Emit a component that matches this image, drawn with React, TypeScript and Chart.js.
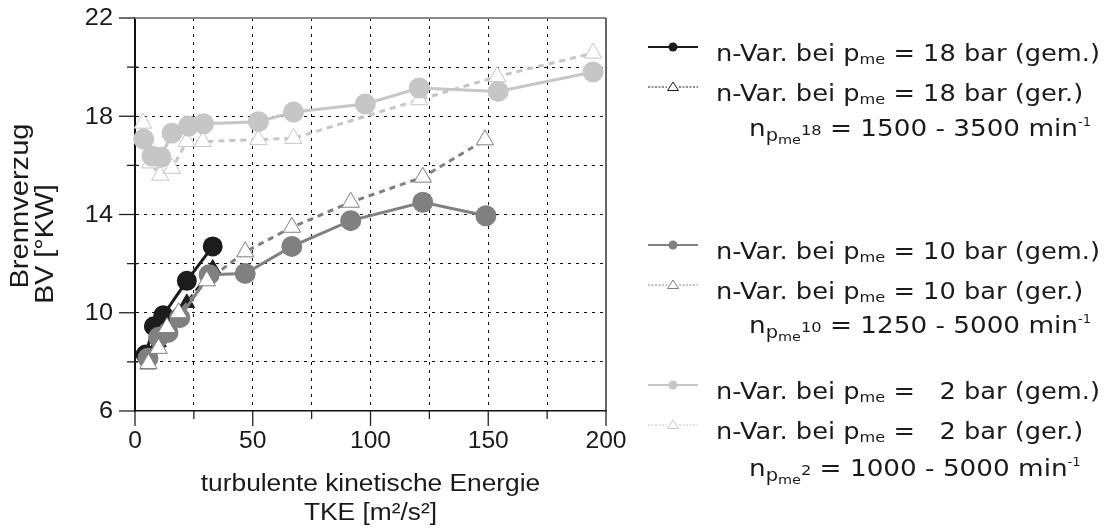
import React, { useEffect, useRef } from 'react';
import { Chart, registerables } from 'chart.js';

Chart.register(...registerables);

// Brennverzug über turbulenter kinetischer Energie – Drehzahlvariation bei drei Lasten
const p18GemTke = [4.5, 8, 12, 22, 33];
const p18GemBv = [8.3, 9.45, 9.9, 11.3, 12.7];
const p18GerTke = [5.5, 10, 22, 33];
const p18GerBv = [7.9, 8.8, 10.4, 11.8];

const p10GemTke = [5.5, 10, 14, 19, 31.5, 46.8, 66.6, 91.6, 122.2, 149];
const p10GemBv = [8.15, 9.0, 9.2, 9.8, 11.55, 11.6, 12.7, 13.75, 14.5, 13.95];
const p10GerTke = [5.7, 10, 13.6, 18.5, 30.5, 46.8, 66.6, 91.6, 122.2, 148.6];
const p10GerBv = [7.93, 8.55, 9.4, 10.0, 11.3, 12.48, 13.48, 14.5, 15.52, 17.04];

const p2GemTke = [3.7, 7.2, 11, 15.7, 22.7, 29.1, 52.4, 67.3, 97.8, 120.7, 154.2, 194.5];
const p2GemBv = [17.07, 16.38, 16.33, 17.31, 17.6, 17.69, 17.78, 18.17, 18.5, 19.15, 19.01, 19.8];
const p2GerTke = [3.4, 6.5, 10.7, 15.7, 22, 28.8, 52.4, 67.3, 120.7, 153.8, 194.5];
const p2GerBv = [17.72, 16.1, 15.6, 15.88, 16.97, 16.97, 17.05, 17.1, 18.67, 19.62, 20.57];

const xMin = 0;
const xMax = 200;
const xStep = 25;
const xLabelStep = 50;
const yMin = 6;
const yMax = 22;
const yStep = 2;
const yLabelStep = 4;

const xTitle = ['turbulente kinetische Energie', 'TKE [m²/s²]'];
const yTitle = ['Brennverzug', 'BV [°KW]'];

const loadLabels = ['18', '10', '  2'];
const speedRanges = ['1500 - 3500', '1250 - 5000', '1000 - 5000'];

const C_BLACK = '#1c1c1c';
const C_MID = '#808080';
const C_LIGHT = '#c6c6c6';
const TEXT = '#1a1a1a';
const AXIS_FONT = '"Liberation Sans", Arial, sans-serif';
const LEGEND_FONT = '"DejaVu Sans", Verdana, sans-serif';

const pts = (xs: number[], ys: number[]) => xs.map((x, i) => ({ x, y: ys[i] }));

type Seg = { t: string; k?: number; dy?: number };

function richWidth(ctx: CanvasRenderingContext2D, segs: Seg[], base: number) {
  let w = 0;
  for (const s of segs) {
    ctx.font = `${base * (s.k ?? 1)}px ${LEGEND_FONT}`;
    w += ctx.measureText(s.t).width;
  }
  return w;
}

function drawRich(ctx: CanvasRenderingContext2D, x: number, y: number, segs: Seg[], base: number, sx: number) {
  ctx.save();
  ctx.translate(x, y);
  ctx.scale(sx, 1);
  let cx = 0;
  for (const s of segs) {
    ctx.font = `${base * (s.k ?? 1)}px ${LEGEND_FONT}`;
    ctx.fillText(s.t, cx, base * (s.dy ?? 0));
    cx += ctx.measureText(s.t).width;
  }
  ctx.restore();
}

// text drawn with a slight horizontal widening
function drawWide(
  ctx: CanvasRenderingContext2D,
  text: string,
  x: number,
  y: number,
  align: 'left' | 'center' | 'right',
  stretch: number,
) {
  const w = ctx.measureText(text).width * stretch;
  const x0 = align === 'left' ? x : align === 'center' ? x - w / 2 : x - w;
  ctx.save();
  ctx.translate(x0, y);
  ctx.scale(stretch, 1);
  ctx.textAlign = 'left';
  ctx.fillText(text, 0, 0);
  ctx.restore();
}

const gemRow = (load: string): Seg[] => [
  { t: 'n-Var. bei p' },
  { t: 'me', k: 0.63, dy: 0.17 },
  { t: ` = ${load} bar (gem.)` },
];
const gerRow = (load: string): Seg[] => [
  { t: 'n-Var. bei p' },
  { t: 'me', k: 0.63, dy: 0.17 },
  { t: ` = ${load} bar (ger.)` },
];
const noteRow = (load: string, range: string): Seg[] => [
  { t: 'n' },
  { t: 'p', k: 0.74, dy: 0.2 },
  { t: 'me', k: 0.55, dy: 0.36 },
  { t: load.trim(), k: 0.62, dy: -0.04 },
  { t: ` = ${range} min` },
  { t: '-1', k: 0.5, dy: -0.42 },
];

const decorations = {
  id: 'decorations',
  afterDraw(chart: any) {
    const { ctx, chartArea: a, scales } = chart;
    const xs = scales.x;
    const ys = scales.y;
    ctx.save();

    // frame: top and right edges
    ctx.lineCap = 'butt';
    ctx.strokeStyle = '#8a8a8a';
    ctx.lineWidth = 2;
    ctx.beginPath();
    ctx.moveTo(a.left, a.top);
    ctx.lineTo(a.right, a.top);
    ctx.stroke();
    ctx.strokeStyle = '#333';
    ctx.lineWidth = 1.5;
    ctx.beginPath();
    ctx.moveTo(a.right, a.top);
    ctx.lineTo(a.right, a.bottom);
    ctx.stroke();

    // outward tick marks, long at labelled values
    ctx.strokeStyle = '#222';
    ctx.lineWidth = 1.3;
    for (const t of xs.ticks) {
      const px = xs.getPixelForValue(t.value);
      const len = t.value % xLabelStep === 0 ? 15 : 8;
      ctx.beginPath();
      ctx.moveTo(px, a.bottom);
      ctx.lineTo(px, a.bottom + len);
      ctx.stroke();
    }
    for (const t of ys.ticks) {
      const py = ys.getPixelForValue(t.value);
      const major = (t.value - yMin) % yLabelStep === 0;
      ctx.beginPath();
      ctx.moveTo(a.left - (major ? 16 : 8), py);
      ctx.lineTo(a.left + (major ? 0 : 3), py);
      ctx.stroke();
    }

    // tick labels
    ctx.fillStyle = TEXT;
    ctx.font = `23px ${AXIS_FONT}`;
    ctx.textBaseline = 'middle';
    for (const t of xs.ticks) {
      if (t.value % xLabelStep !== 0) continue;
      drawWide(ctx, String(t.value), xs.getPixelForValue(t.value), 442, 'center', 1.07);
    }
    for (const t of ys.ticks) {
      if ((t.value - yMin) % yLabelStep !== 0) continue;
      drawWide(ctx, String(t.value), 113, ys.getPixelForValue(t.value) + 1, 'right', 1.1);
    }

    // axis titles
    ctx.font = `23.5px ${AXIS_FONT}`;
    ctx.textBaseline = 'alphabetic';
    const cx = (a.left + a.right) / 2;
    drawWide(ctx, xTitle[0], cx, 491, 'center', 1.12);
    drawWide(ctx, xTitle[1], cx, 520, 'center', 1.12);
    ctx.font = `26px ${AXIS_FONT}`;
    ctx.textBaseline = 'middle';
    ctx.save();
    ctx.translate(21, 206);
    ctx.rotate(-Math.PI / 2);
    drawWide(ctx, yTitle[0], 0, 0, 'center', 1.12);
    ctx.restore();
    ctx.save();
    ctx.translate(46, 244);
    ctx.rotate(-Math.PI / 2);
    drawWide(ctx, yTitle[1], 0, 0, 'center', 1.1);
    ctx.restore();

    // legend
    const F = 23;
    const clamp = (v: number) => Math.min(1.15, Math.max(0.9, v));
    const sx = clamp(384 / richWidth(ctx, gemRow(loadLabels[0]), F));
    const sxNote = clamp(342 / richWidth(ctx, noteRow(loadLabels[0], speedRanges[0]), F));
    const colors = [C_BLACK, C_MID, C_LIGHT];
    const groups = [
      { gem: 60.5, ger: 100.5, note: 136 },
      { gem: 258.5, ger: 298.5, note: 333 },
      { gem: 398.5, ger: 438.5, note: 476 },
    ];
    const lineOff = -13.5;
    ctx.textAlign = 'left';
    ctx.textBaseline = 'alphabetic';
    groups.forEach((g, i) => {
      const col = colors[i];
      // solid sample with dot
      ctx.strokeStyle = col;
      ctx.lineWidth = 2;
      ctx.setLineDash([]);
      ctx.beginPath();
      ctx.moveTo(648, g.gem + lineOff);
      ctx.lineTo(698, g.gem + lineOff);
      ctx.stroke();
      ctx.fillStyle = col;
      ctx.beginPath();
      ctx.arc(673, g.gem + lineOff, 4.5, 0, Math.PI * 2);
      ctx.fill();
      // dotted sample with open triangle
      const ly = g.ger + lineOff;
      ctx.lineWidth = 1;
      ctx.setLineDash([2, 1.5]);
      ctx.beginPath();
      ctx.moveTo(648, ly);
      ctx.lineTo(667, ly);
      ctx.moveTo(679, ly);
      ctx.lineTo(698, ly);
      ctx.stroke();
      ctx.setLineDash([]);
      ctx.fillStyle = '#fff';
      ctx.beginPath();
      ctx.moveTo(673, ly - 5);
      ctx.lineTo(678.5, ly + 3.5);
      ctx.lineTo(667.5, ly + 3.5);
      ctx.closePath();
      ctx.fill();
      ctx.stroke();

      ctx.fillStyle = TEXT;
      drawRich(ctx, 716, g.gem, gemRow(loadLabels[i]), F, sx);
      drawRich(ctx, 716, g.ger, gerRow(loadLabels[i]), F, sx);
      drawRich(ctx, 749, g.note, noteRow(loadLabels[i], speedRanges[i]), F, sxNote);
    });

    ctx.restore();
  },
};

export default function App() {
  const ref = useRef<HTMLCanvasElement | null>(null);

  useEffect(() => {
    if (!ref.current) return;
    const gridColor = (edgeA: number, edgeB: number) => (c: any) =>
      c.tick && (c.tick.value === edgeA || c.tick.value === edgeB) ? 'rgba(0,0,0,0)' : '#111';

    const chart = new Chart(ref.current, {
      type: 'scatter',
      data: {
        datasets: [
          {
            label: 'n-Var. bei pme = 10 bar (ger.)',
            data: pts(p10GerTke, p10GerBv),
            showLine: true,
            borderColor: C_MID,
            borderWidth: 3,
            borderDash: [6, 5],
            pointStyle: 'triangle',
            pointRadius: 10,
            pointBackgroundColor: '#ffffff',
            pointBorderColor: C_MID,
            pointBorderWidth: 1,
            order: 1,
          },
          {
            label: 'n-Var. bei pme = 10 bar (gem.)',
            data: pts(p10GemTke, p10GemBv),
            showLine: true,
            borderColor: C_MID,
            borderWidth: 3,
            pointStyle: 'circle',
            pointRadius: 9,
            pointBackgroundColor: C_MID,
            pointBorderColor: C_MID,
            order: 2,
          },
          {
            label: 'n-Var. bei pme = 18 bar (gem.)',
            data: pts(p18GemTke, p18GemBv),
            showLine: true,
            borderColor: C_BLACK,
            borderWidth: 3,
            pointStyle: 'circle',
            pointRadius: 8.5,
            pointBackgroundColor: C_BLACK,
            pointBorderColor: C_BLACK,
            order: 3,
          },
          {
            label: 'n-Var. bei pme = 18 bar (ger.)',
            data: pts(p18GerTke, p18GerBv),
            showLine: true,
            borderColor: C_BLACK,
            borderWidth: 3,
            borderDash: [6, 5],
            pointStyle: 'triangle',
            pointRadius: 9,
            pointBackgroundColor: C_BLACK,
            pointBorderColor: C_BLACK,
            pointBorderWidth: 1,
            order: 4,
          },
          {
            label: 'n-Var. bei pme = 2 bar (gem.)',
            data: pts(p2GemTke, p2GemBv),
            showLine: true,
            borderColor: C_LIGHT,
            borderWidth: 3,
            pointStyle: 'circle',
            pointRadius: 9,
            pointBackgroundColor: C_LIGHT,
            pointBorderColor: C_LIGHT,
            order: 5,
          },
          {
            label: 'n-Var. bei pme = 2 bar (ger.)',
            data: pts(p2GerTke, p2GerBv),
            showLine: true,
            borderColor: C_LIGHT,
            borderWidth: 3,
            borderDash: [6, 5],
            pointStyle: 'triangle',
            pointRadius: 10,
            pointBackgroundColor: '#ffffff',
            pointBorderColor: C_LIGHT,
            pointBorderWidth: 1,
            order: 6,
          },
        ],
      },
      options: {
        animation: false,
        responsive: false,
        devicePixelRatio: 1,
        layout: { autoPadding: false, padding: { left: 0, right: 507, top: 18, bottom: 0 } },
        datasets: { scatter: { clip: false } } as any,
        plugins: { legend: { display: false }, tooltip: { enabled: false } },
        scales: {
          x: {
            type: 'linear',
            min: xMin,
            max: xMax,
            afterFit: (s: any) => {
              s.height = 117;
            },
            ticks: { stepSize: xStep, autoSkip: false, display: false },
            grid: { color: gridColor(xMin, xMax), lineWidth: 1, drawTicks: false },
            border: { display: true, color: '#111', width: 1.5, dash: [3, 5] },
          },
          y: {
            type: 'linear',
            min: yMin,
            max: yMax,
            afterFit: (s: any) => {
              s.width = 135;
            },
            ticks: { stepSize: yStep, autoSkip: false, display: false },
            grid: { color: gridColor(yMin, yMax), lineWidth: 1, drawTicks: false },
            border: { display: true, color: '#111', width: 2, dash: [3, 5] },
          },
        },
      },
      plugins: [decorations],
    });
    return () => chart.destroy();
  }, []);

  return (
    <div style={{ position: 'absolute', left: 0, top: 0, width: 1113, height: 528, background: '#fff' }}>
      <canvas ref={ref} width={1113} height={528} />
    </div>
  );
}
